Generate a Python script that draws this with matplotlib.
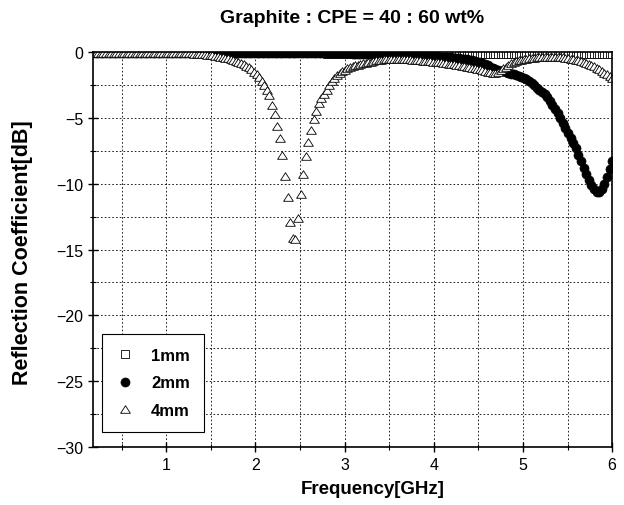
import matplotlib
matplotlib.use("Agg")
import matplotlib.pyplot as plt
import numpy as np
from matplotlib.ticker import MultipleLocator

plt.rcParams['font.family'] = ['Liberation Sans', 'DejaVu Sans']

# frequency sweep (GHz), 201 points
freq = np.linspace(0.18, 6.0, 201)

# reflection coefficient (dB)
s_1mm = [
    -0.05, -0.05, -0.05, -0.05, -0.05, -0.05, -0.05, -0.05, -0.05, -0.05,
    -0.06, -0.06, -0.06, -0.06, -0.06, -0.06, -0.06, -0.06, -0.06, -0.06,
    -0.07, -0.07, -0.07, -0.07, -0.07, -0.07, -0.07, -0.07, -0.07, -0.07,
    -0.08, -0.08, -0.08, -0.08, -0.08, -0.08, -0.08, -0.08, -0.08, -0.08,
    -0.09, -0.09, -0.09, -0.09, -0.09, -0.09, -0.09, -0.09, -0.09, -0.09,
    -0.10, -0.10, -0.10, -0.10, -0.10, -0.10, -0.10, -0.10, -0.10, -0.10,
    -0.10, -0.10, -0.10, -0.10, -0.10, -0.10, -0.10, -0.10, -0.10, -0.10,
    -0.11, -0.11, -0.11, -0.11, -0.11, -0.11, -0.11, -0.11, -0.11, -0.11,
    -0.11, -0.11, -0.11, -0.11, -0.11, -0.11, -0.11, -0.11, -0.11, -0.11,
    -0.12, -0.12, -0.12, -0.12, -0.12, -0.12, -0.12, -0.12, -0.12, -0.12,
    -0.12, -0.12, -0.12, -0.12, -0.12, -0.12, -0.12, -0.12, -0.12, -0.12,
    -0.12, -0.12, -0.12, -0.12, -0.12, -0.12, -0.12, -0.12, -0.12, -0.12,
    -0.12, -0.12, -0.12, -0.12, -0.12, -0.12, -0.12, -0.12, -0.12, -0.12,
    -0.12, -0.12, -0.12, -0.12, -0.12, -0.12, -0.12, -0.12, -0.12, -0.12,
    -0.12, -0.12, -0.12, -0.12, -0.12, -0.12, -0.12, -0.12, -0.12, -0.12,
    -0.12, -0.12, -0.12, -0.12, -0.12, -0.12, -0.12, -0.12, -0.12, -0.12,
    -0.12, -0.12, -0.12, -0.12, -0.12, -0.12, -0.12, -0.12, -0.12, -0.12,
    -0.12, -0.12, -0.12, -0.12, -0.12, -0.12, -0.12, -0.12, -0.12, -0.12,
    -0.13, -0.13, -0.13, -0.13, -0.13, -0.13, -0.13, -0.13, -0.13, -0.13,
    -0.14, -0.14, -0.14, -0.15, -0.15, -0.15, -0.16, -0.16, -0.17, -0.17,
    -0.18,
]

s_2mm = [
    -0.05, -0.05, -0.05, -0.05, -0.05, -0.05, -0.05, -0.05, -0.05, -0.05,
    -0.05, -0.05, -0.05, -0.05, -0.05, -0.05, -0.05, -0.05, -0.05, -0.05,
    -0.06, -0.06, -0.06, -0.06, -0.06, -0.06, -0.06, -0.06, -0.06, -0.06,
    -0.06, -0.06, -0.06, -0.06, -0.06, -0.06, -0.06, -0.06, -0.06, -0.06,
    -0.07, -0.07, -0.07, -0.07, -0.07, -0.07, -0.07, -0.07, -0.07, -0.07,
    -0.08, -0.08, -0.08, -0.08, -0.08, -0.08, -0.08, -0.08, -0.08, -0.08,
    -0.09, -0.09, -0.09, -0.09, -0.09, -0.09, -0.09, -0.09, -0.09, -0.09,
    -0.10, -0.10, -0.10, -0.10, -0.10, -0.10, -0.10, -0.10, -0.10, -0.10,
    -0.10, -0.10, -0.10, -0.10, -0.10, -0.10, -0.10, -0.10, -0.10, -0.10,
    -0.11, -0.11, -0.11, -0.11, -0.11, -0.11, -0.11, -0.11, -0.11, -0.11,
    -0.12, -0.12, -0.12, -0.12, -0.12, -0.13, -0.13, -0.13, -0.14, -0.14,
    -0.15, -0.15, -0.15, -0.16, -0.16, -0.17, -0.17, -0.18, -0.18, -0.19,
    -0.20, -0.20, -0.21, -0.22, -0.23, -0.24, -0.25, -0.26, -0.27, -0.28,
    -0.29, -0.30, -0.31, -0.32, -0.34, -0.36, -0.37, -0.39, -0.41, -0.43,
    -0.45, -0.47, -0.50, -0.53, -0.56, -0.60, -0.64, -0.69, -0.74, -0.79,
    -0.85, -0.92, -1.00, -1.10, -1.20, -1.30, -1.37, -1.42, -1.47, -1.53,
    -1.60, -1.65, -1.70, -1.75, -1.82, -1.90, -1.98, -2.08, -2.20, -2.35,
    -2.50, -2.70, -2.90, -3.05, -3.20, -3.40, -3.70, -4.00, -4.30, -4.65,
    -5.00, -5.40, -5.80, -6.15, -6.50, -6.90, -7.30, -7.80, -8.30, -8.80,
    -9.30, -9.75, -10.10, -10.40, -10.60, -10.60, -10.40, -10.00, -9.50, -8.90,
    -8.30,
]

s_4mm = [
    -0.05, -0.05, -0.05, -0.05, -0.05, -0.05, -0.05, -0.05, -0.05, -0.05,
    -0.06, -0.06, -0.06, -0.06, -0.06, -0.06, -0.06, -0.06, -0.06, -0.06,
    -0.07, -0.07, -0.07, -0.07, -0.07, -0.08, -0.08, -0.08, -0.08, -0.08,
    -0.09, -0.09, -0.09, -0.09, -0.10, -0.10, -0.10, -0.11, -0.11, -0.12,
    -0.13, -0.14, -0.15, -0.17, -0.19, -0.21, -0.24, -0.27, -0.31, -0.35,
    -0.39, -0.44, -0.49, -0.55, -0.61, -0.68, -0.75, -0.83, -0.93, -1.04,
    -1.17, -1.32, -1.49, -1.69, -1.92, -2.20, -2.52, -2.88, -3.30, -4.00,
    -4.70, -5.60, -6.50, -7.80, -9.40, -11.00, -12.90, -14.10, -14.20, -12.60,
    -10.80, -9.30, -7.90, -6.80, -5.90, -5.10, -4.50, -3.90, -3.50, -3.20,
    -2.90, -2.50, -2.20, -1.95, -1.75, -1.60, -1.45, -1.35, -1.25, -1.15,
    -1.05, -1.00, -0.95, -0.90, -0.85, -0.80, -0.76, -0.72, -0.68, -0.64,
    -0.60, -0.57, -0.55, -0.53, -0.52, -0.51, -0.50, -0.50, -0.50, -0.51,
    -0.52, -0.53, -0.55, -0.57, -0.59, -0.61, -0.63, -0.65, -0.67, -0.69,
    -0.71, -0.73, -0.75, -0.77, -0.79, -0.82, -0.85, -0.88, -0.91, -0.94,
    -0.97, -1.00, -1.03, -1.07, -1.10, -1.14, -1.18, -1.22, -1.27, -1.32,
    -1.38, -1.44, -1.50, -1.55, -1.58, -1.58, -1.50, -1.38, -1.24, -1.10,
    -0.97, -0.87, -0.78, -0.70, -0.64, -0.59, -0.55, -0.51, -0.48, -0.45,
    -0.43, -0.41, -0.39, -0.38, -0.37, -0.36, -0.35, -0.35, -0.36, -0.37,
    -0.39, -0.41, -0.44, -0.47, -0.50, -0.54, -0.59, -0.64, -0.70, -0.76,
    -0.82, -0.90, -0.98, -1.08, -1.18, -1.30, -1.43, -1.56, -1.70, -1.84,
    -1.98,
]

labels = ['1mm', '2mm', '4mm']

# flattened open triangle, a bit wider than tall like the original
tri = [(-1, -0.78), (1, -0.78), (0, 0.78), (-1, -0.78)]

fig = plt.figure(figsize=(6.24, 5.06), dpi=100)
ax = fig.add_axes([0.149, 0.1146, 0.832, 0.7806])

ax.plot(freq, s_1mm, 's', ms=6, mfc='white', mec='black', mew=0.6,
        label=labels[0])
ax.plot(freq, s_2mm, 'o', ms=6.5, mfc='black', mec='black', mew=0.5,
        label=labels[1])
ax.plot(freq, s_4mm, marker=tri, ls='none', ms=7, mfc='white', mec='black',
        mew=0.6, label=labels[2])

ax.set_xlim(0.18, 6.0)
ax.set_ylim(-30, 0)
ax.xaxis.set_major_locator(MultipleLocator(1))
ax.xaxis.set_minor_locator(MultipleLocator(0.5))
ax.yaxis.set_major_locator(MultipleLocator(5))
ax.yaxis.set_minor_locator(MultipleLocator(2.5))
ax.tick_params(which='major', direction='inout', length=7, width=1,
               labelsize=11.5, colors='black')
ax.tick_params(which='minor', direction='inout', length=4, width=0.8)
ax.grid(True, which='both', color='black', linestyle=(0, (2, 2.5)),
        linewidth=0.6)
for s in ax.spines.values():
    s.set_linewidth(1.2)

leg = ax.legend(loc='lower left', bbox_to_anchor=(0.017, 0.038),
                borderaxespad=0, fancybox=False, edgecolor='black',
                fontsize=12, handlelength=1.1, handletextpad=1.0,
                labelspacing=0.75, borderpad=0.85, framealpha=1)
leg.get_frame().set_linewidth(0.8)
for t in leg.get_texts():
    t.set_fontweight('bold')

fig.text(0.565, 0.963, 'Graphite : CPE = 40 : 60 wt%', ha='center',
         va='center', fontsize=14, fontweight='bold')
fig.text(0.598, 0.032, 'Frequency[GHz]', ha='center', va='center',
         fontsize=13.5, fontweight='bold')
fig.text(0.036, 0.5, 'Reflection Coefficient[dB]', ha='center',
         va='center', rotation=90, fontsize=15.5, fontweight='bold')

fig.savefig('out.png', dpi=100)
